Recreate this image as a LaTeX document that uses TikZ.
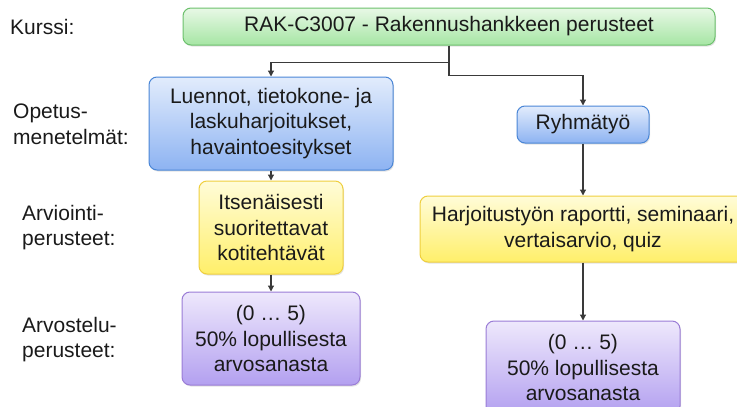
\documentclass[tikz,border=0pt]{standalone}
\usepackage{fontspec}
\setmainfont{Liberation Sans}
\usetikzlibrary{arrows.meta, positioning, shadows}
\definecolor{txt}{HTML}{1A1A1A}
\definecolor{linegray}{HTML}{3A3A3A}
\definecolor{coursetop}{HTML}{E8F8E6}
\definecolor{coursebot}{HTML}{A6E6A4}
\definecolor{courseline}{HTML}{6CC06C}
\definecolor{methodtop}{HTML}{E2ECFC}
\definecolor{methodbot}{HTML}{8DB3F2}
\definecolor{methodline}{HTML}{4A86D6}
\definecolor{assesstop}{HTML}{FFFCD8}
\definecolor{assessbot}{HTML}{FFEF6A}
\definecolor{assessline}{HTML}{EFCF3E}
\definecolor{gradetop}{HTML}{EEE8FC}
\definecolor{gradebot}{HTML}{B3A0F0}
\definecolor{gradeline}{HTML}{9A7CD6}
\tikzset{%
	box/.style={draw, rectangle, rounded corners=8pt, line width=1pt, align=center,%
		inner sep=2pt, text=txt, font=\fontsize{21}{25.5}\selectfont,%
		drop shadow={opacity=0.22, shadow xshift=1pt, shadow yshift=-1.5pt}},
	course/.style={box, draw=courseline, top color=coursetop, bottom color=coursebot},
	method/.style={box, draw=methodline, top color=methodtop, bottom color=methodbot},
	assess/.style={box, draw=assessline, top color=assesstop, bottom color=assessbot},
	grade/.style={box, draw=gradeline, top color=gradetop, bottom color=gradebot},
	lbl/.style={anchor=west, align=left, inner sep=0pt, text=txt, font=\fontsize{21}{25.5}\selectfont},
	conn/.style={draw=linegray, line width=1.2pt, -{Triangle[length=6pt, width=6pt]}}
}
\begin{document}
\begin{tikzpicture}[x=1pt, y=-1pt]
	\useasboundingbox (0,0) rectangle (737,407);

	\node[course, minimum width=532, minimum height=37] (kurssi) at (449,26.5) {RAK-C3007 - Rakennushankkeen perusteet};
	\node[method, minimum width=244, minimum height=93] (luennot) at (271,123.5) {Luennot, tietokone- ja\\laskuharjoitukset,\\havaintoesitykset};
	\node[assess, minimum width=144, minimum height=93, below=10pt of luennot] (koti) {Itsenäisesti\\suoritettavat\\kotitehtävät};
	\node[grade, minimum width=178, minimum height=93, below=17pt of koti] (arvo1) {(0 … 5)\\50\% lopullisesta\\arvosanasta};
	\node[method, minimum width=132, minimum height=37] (ryhma) at (583,124.5) {Ryhmätyö};
	\node[assess, minimum width=326, minimum height=66, below=52pt of ryhma] (harj) {Harjoitustyön raportti, seminaari,\\vertaisarvio, quiz};
	\node[grade, minimum width=194, minimum height=93, below=58pt of harj] (arvo2) {(0 … 5)\\50\% lopullisesta\\arvosanasta};

	% rivien otsikot
	\node[lbl] (lkurssi) at (10,27) {Kurssi:};
	\node[lbl] (lopetus) at (13,124.5) {Opetus-\\menetelmät:};
	\node[lbl] (larvio) at (22,227.5) {Arviointi-\\perusteet:};
	\node[lbl] (larvostelu) at (22,339.5) {Arvostelu-\\perusteet:};

	\draw[conn] (kurssi.south) -- ++(0,17) -| (luennot.north);
	\draw[conn] (kurssi.south) -- ++(0,30) -| (ryhma.north);
	\draw[conn] (luennot) -- (koti);
	\draw[conn] (koti) -- (arvo1);
	\draw[conn] (ryhma) -- (harj);
	\draw[conn] (harj) -- (arvo2);
\end{tikzpicture}
\end{document}
